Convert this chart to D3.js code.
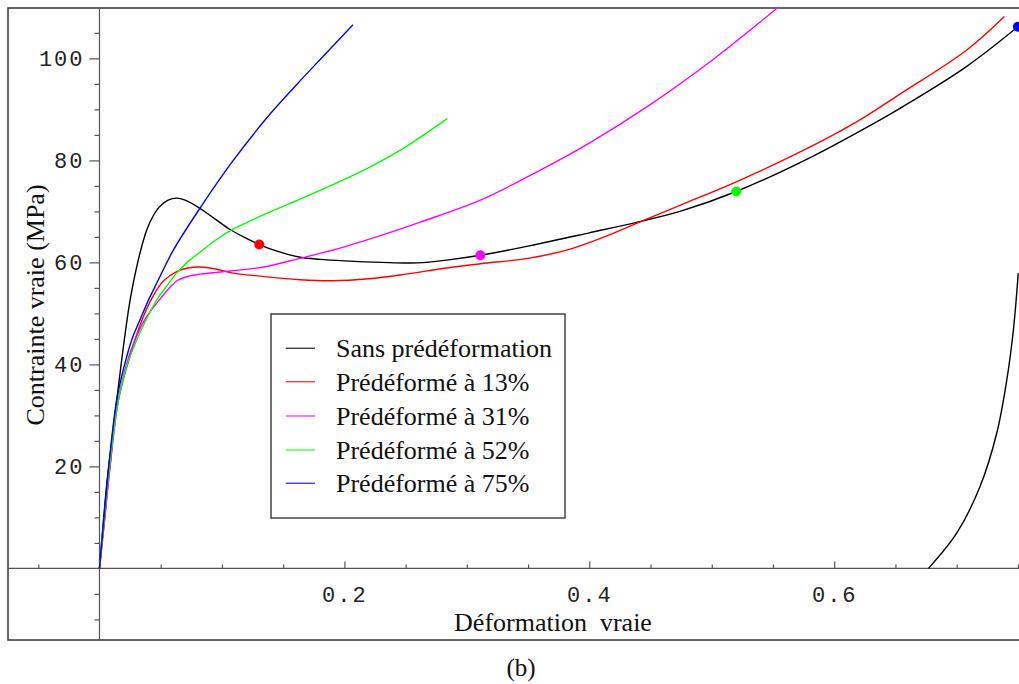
<!DOCTYPE html>
<html><head><meta charset="utf-8">
<script src="https://cdn.jsdelivr.net/npm/d3@7"></script>
<style>
html,body{margin:0;padding:0;background:#fff;}
svg{display:block;}
</style></head>
<body>
<svg id="chart" width="1019" height="684"></svg>
<script>
// ---- data (strain, true stress MPa) ----
const seriesNames = ["Sans prédéformation","Prédéformé à 13%","Prédéformé à 31%","Prédéformé à 52%","Prédéformé à 75%"];
const seriesColors = ["#000000","#ff0000","#ff00ff","#00ff00","#0000ff"];

const blackStrain = [0,0.003,0.006,0.010,0.014,0.019,0.025,0.032,0.0385,0.044,0.049,0.056,0.063,0.070,0.082,0.095,0.107,0.120,0.1305,0.145,0.164,0.180,0.200,0.230,0.260,0.285,0.311,0.350,0.400,0.441,0.474,0.520,0.580,0.635,0.6537,0.708,0.750];
const blackStress = [0,8.7,16.7,25.0,32.8,42.5,52.6,60.8,66.3,69.2,70.9,72.2,72.6,72.2,70.6,68.4,66.4,64.7,63.5,62.2,61.0,60.6,60.3,60.0,59.9,60.5,61.4,63.2,65.8,68.0,70.0,73.9,80.5,87.6,90.2,98.4,106.2];

const redStrain = [0,0.004,0.0086,0.0154,0.029,0.036,0.044,0.052,0.063,0.072,0.082,0.095,0.107,0.131,0.164,0.190,0.220,0.250,0.280,0.310,0.350,0.380,0.410,0.441,0.474,0.520,0.580,0.620,0.6537,0.708,0.739];
const redStress = [0,9,20,33,44.8,49.5,53.5,56.3,58.2,58.9,59.1,58.7,58.0,57.3,56.6,56.4,56.8,57.7,58.8,59.7,60.8,62.3,64.8,67.9,71.2,75.8,82.6,87.8,93.0,101.6,108.2];

const magentaStrain = [0,0.004,0.0086,0.0154,0.022,0.0276,0.037,0.0494,0.057,0.064,0.073,0.082,0.1066,0.1365,0.1637,0.1964,0.230,0.262,0.311,0.360,0.400,0.450,0.500,0.550,0.560];
const magentaStress = [0,9.5,20,33,40,44.0,48.8,52.8,55.0,56.5,57.3,57.7,58.3,59.2,60.8,62.8,65.3,67.9,72.2,78.1,83.4,91.0,99.6,109.2,111.2];

const greenStrain = [0,0.004,0.008,0.0154,0.022,0.0304,0.039,0.0467,0.055,0.063,0.072,0.082,0.0945,0.1066,0.1365,0.1637,0.1964,0.220,0.245,0.284];
const greenStress = [0,10,19.5,33,39.5,44.8,49.2,52.6,55.4,57.9,60.1,62.0,64.3,66.2,69.6,72.4,75.9,78.6,81.9,88.2];

const blueStrain = [0,0.004,0.008,0.014,0.020,0.0263,0.033,0.040,0.0467,0.0603,0.082,0.108,0.1365,0.160,0.181,0.207];
const blueStress = [0,11,21,33,39.5,44.8,48.7,52.6,55.9,62.4,70.6,79.6,88.3,94.6,100,106.6];

// unloading branch (black, no legend entry)
const unloadStrain = [0.677,0.700,0.719,0.7327,0.7409,0.7463,0.7503];
const unloadStress = [0,6.9,16.0,26.5,36.9,46.7,57.9];

// marker dots on the reference curve at the prestrain levels
const dotStrain = [0.1305,0.311,0.520,0.750];
const dotStress = [63.5,61.4,73.9,106.2];
const dotColors = ["#ff0000","#ff00ff","#00ff00","#0000ff"];

const xMajorTicks = [0.2,0.4,0.6];
const xMinorTicks = [-0.05,0.05,0.1,0.15,0.25,0.3,0.35,0.45,0.5,0.55,0.65,0.7,0.75];
const yMajorTicks = [20,40,60,80,100];
const yMinorTicks = [-10,-5,5,10,15,25,30,35,45,50,55,65,70,75,85,90,95,105];

// ---- layout ----
const svg = d3.select("#chart");
const frame = {left:8, top:8, right:1019, bottom:640};
const x = d3.scaleLinear().domain([-0.075,0.75]).range([7.66,1017.9]);
const y = d3.scaleLinear().domain([-14,110]).range([639.8,7.4]);

svg.append("defs").append("clipPath").attr("id","clip")
  .append("rect").attr("x",frame.left).attr("y",frame.top)
  .attr("width",frame.right-frame.left+5).attr("height",frame.bottom-frame.top);

// frame
svg.append("rect").attr("x",frame.left).attr("y",frame.top)
  .attr("width",1030-frame.left).attr("height",frame.bottom-frame.top)
  .attr("fill","none").attr("stroke","#333").attr("stroke-width",1.5);

const monoFont = "'Liberation Mono', 'DejaVu Sans Mono', monospace";
const serifFont = "'Liberation Serif', 'Times New Roman', serif";

// axes lines
svg.append("line").attr("x1",x(0)).attr("x2",x(0)).attr("y1",frame.top).attr("y2",frame.bottom)
  .attr("stroke","#555").attr("stroke-width",1.2);
svg.append("line").attr("x1",frame.left).attr("x2",frame.right).attr("y1",y(0)).attr("y2",y(0))
  .attr("stroke","#555").attr("stroke-width",1.2);

// y axis ticks
const yMaj = svg.append("g").attr("transform",`translate(${x(0)},0)`)
  .call(d3.axisLeft(y).tickValues(yMajorTicks).tickSize(10).tickPadding(5).tickFormat(d3.format("d")));
const yMin = svg.append("g").attr("transform",`translate(${x(0)},0)`)
  .call(d3.axisLeft(y).tickValues(yMinorTicks).tickSize(5).tickFormat(""));
// x axis ticks (pointing up)
const xMaj = svg.append("g").attr("transform",`translate(0,${y(0)})`)
  .call(d3.axisBottom(x).tickValues(xMajorTicks).tickSize(-7).tickPadding(18).tickFormat(d3.format(".1f")));
const xMin = svg.append("g").attr("transform",`translate(0,${y(0)})`)
  .call(d3.axisBottom(x).tickValues(xMinorTicks).tickSize(-4).tickFormat(""));

[yMaj,yMin,xMaj,xMin].forEach(g=>{
  g.select(".domain").remove();
  g.selectAll(".tick line").attr("stroke","#555").attr("stroke-width",1.2);
  g.selectAll(".tick text").attr("font-family",monoFont).attr("font-size",22)
    .attr("fill","#222").attr("letter-spacing",2);
});

// curves
const line = d3.line().x(d=>x(d[0])).y(d=>y(d[1])).curve(d3.curveCatmullRom.alpha(0.5));
const zip = (a,b)=>a.map((v,i)=>[v,b[i]]);
const curves = [
  {data:zip(blackStrain,blackStress), color:seriesColors[0]},
  {data:zip(unloadStrain,unloadStress), color:seriesColors[0]},
  {data:zip(redStrain,redStress), color:seriesColors[1]},
  {data:zip(magentaStrain,magentaStress), color:seriesColors[2]},
  {data:zip(greenStrain,greenStress), color:seriesColors[3]},
  {data:zip(blueStrain,blueStress), color:seriesColors[4]}
];
const plot = svg.append("g").attr("clip-path","url(#clip)");
plot.selectAll("path.curve").data(curves).join("path").attr("class","curve")
  .attr("d",d=>line(d.data)).attr("fill","none")
  .attr("stroke",d=>d.color).attr("stroke-width",1.4);

plot.selectAll("circle.dot").data(dotStrain.map((s,i)=>({s,v:dotStress[i],c:dotColors[i]})))
  .join("circle").attr("class","dot")
  .attr("cx",d=>x(d.s)).attr("cy",d=>y(d.v)).attr("r",5).attr("fill",d=>d.c);

// axis labels
svg.append("text").attr("x",553).attr("y",631).attr("text-anchor","middle")
  .attr("font-family",serifFont).attr("font-size",26).attr("fill","#111")
  .style("white-space","pre").text("Déformation  vraie");
svg.append("text").attr("transform","translate(44,305) rotate(-90)").attr("text-anchor","middle")
  .attr("font-family",serifFont).attr("font-size",26).attr("fill","#111")
  .text("Contrainte vraie (MPa)");
svg.append("text").attr("x",521).attr("y",676).attr("text-anchor","middle")
  .attr("font-family",serifFont).attr("font-size",25).attr("fill","#111")
  .text("(b)");

// legend
const lg = svg.append("g");
lg.append("rect").attr("x",271).attr("y",314).attr("width",294).attr("height",204)
  .attr("fill","#fff").attr("stroke","#444").attr("stroke-width",1.5);
const rowY = [348.3,381.7,416,450,483.3];
seriesNames.forEach((name,i)=>{
  lg.append("line").attr("x1",285.7).attr("x2",315).attr("y1",rowY[i]).attr("y2",rowY[i])
    .attr("stroke",seriesColors[i]).attr("stroke-width",1.4).attr("opacity",0.75);
  lg.append("text").attr("x",336).attr("y",rowY[i]+9).attr("font-family",serifFont)
    .attr("font-size",26).attr("fill","#111").text(name);
});
</script>
</body></html>
